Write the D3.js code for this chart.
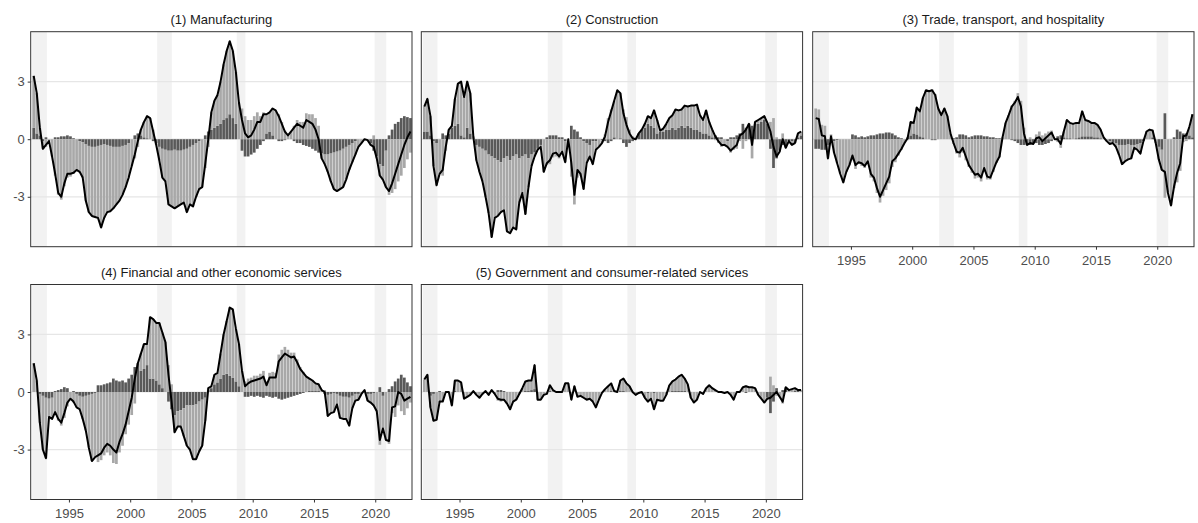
<!DOCTYPE html>
<html>
<head>
<meta charset="utf-8">
<script src="https://cdn.jsdelivr.net/npm/d3@7"></script>
<style>
  body { margin: 0; background: #fff; font-family: "Liberation Sans", Arial, sans-serif; }
  .tick text { fill: #4d4d4d; font-size: 13px; }
  .title { fill: #1a1a1a; font-size: 13px; }
</style>
</head>
<body>
<div id="chart"></div>
<script>
// Quarterly data, 1992Q1 - 2022Q4
const startYear = 1992;
const panelTitles = [
  "(1) Manufacturing",
  "(2) Construction",
  "(3) Trade, transport, and hospitality",
  "(4) Financial and other economic services",
  "(5) Government and consumer-related services"
];
const recessions = [[1992.0, 1993.2], [2002.2, 2003.4], [2008.7, 2009.4], [2019.95, 2020.9]];
const xTicks = [1995, 2000, 2005, 2010, 2015, 2020];
const yTicks = [-3, 0, 3];

// total contribution (black line)
const total1 = [3.3,2.4,0.6,-0.5, -0.3,-0.1,-0.9,-1.8, -2.8,-3.0,-2.3,-1.8, -1.8,-1.75,-1.6,-1.7,
  -2.0,-3.2,-3.8,-4.0, -4.05,-4.1,-4.6,-4.1, -3.8,-3.75,-3.6,-3.4, -3.2,-2.9,-2.5,-2.0,
  -1.4,-0.8,-0.1,0.5, 0.9,1.2,1.1,0.4, -0.3,-1.1,-2.0,-2.2, -3.4,-3.5,-3.6,-3.5,
  -3.4,-3.3,-3.8,-3.4, -3.5,-3.0,-2.6,-2.5, -1.3,0.0,1.4,2.0, 2.3,3.0,3.9,4.6,
  5.1,4.6,3.5,1.9, 1.0,0.3,0.1,0.2, 0.5,0.9,0.9,1.3, 1.3,1.4,1.6,1.5,
  1.2,0.8,0.4,0.2, 0.4,0.6,0.8,0.7, 0.6,1.0,0.9,0.8, 0.5,0.0,-1.0,-1.3,
  -1.7,-2.2,-2.6,-2.7, -2.6,-2.5,-2.1,-1.6, -1.2,-0.8,-0.4,-0.2, 0.0,-0.05,-0.3,-0.4,
  -1.0,-1.9,-2.1,-2.5, -2.7,-2.3,-1.8,-1.3, -0.8,-0.3,0.1,0.4];
const total2 = [1.7,2.1,1.2,-1.4, -2.4,-1.8,-1.6,-0.4, 0.5,0.7,2.1,2.9, 3.0,2.2,3.0,2.4,
  0.15,-1.1,-1.7,-2.2, -3.0,-3.85,-5.1,-4.1, -4.0,-3.8,-3.7,-4.8, -4.9,-4.6,-4.7,-3.3,
  -2.8,-3.9,-2.5,-1.4, -0.9,-0.55,-0.4,-1.7, -1.25,-1.1,-0.75,-0.7, -0.9,-0.65,-1.2,0.0,
  -1.25,-2.9,-1.6,-1.8, -2.6,-1.25,-0.9,-1.3, -0.55,-0.4,-0.2,0.15, 0.9,1.45,2.0,2.55,
  2.4,1.35,0.75,0.3, 0.05,0.0,0.3,0.5, 0.8,1.2,1.1,1.5, 1.0,0.45,0.55,0.8,
  1.1,1.25,1.55,1.5, 1.55,1.75,1.7,1.75, 1.75,1.8,1.25,1.0, 1.5,0.9,0.5,0.15,
  -0.1,-0.3,-0.3,-0.4, -0.6,-0.45,-0.3,0.2, 0.3,0.5,0.8,-0.3, 0.9,1.0,1.1,1.2,
  0.85,0.4,-0.4,-0.9, -0.65,0.0,-0.45,-0.1, -0.3,-0.2,0.3,0.4];
const total3 = [1.1,1.05,0.2,0.15, -1.0,0.15,-0.7,-1.25, -1.8,-2.25,-1.7,-1.35, -0.85,-1.35,-1.2,-1.25,
  -1.4,-1.15,-1.8,-2.0, -2.55,-3.0,-2.65,-2.3, -1.95,-1.15,-1.0,-0.75, -0.5,-0.2,0.05,0.9,
  0.85,1.65,1.45,2.15, 2.55,2.5,2.55,2.3, 1.6,1.25,1.6,1.2, 0.3,-0.2,-0.65,-0.7,
  -0.45,-0.9,-1.35,-1.6, -1.85,-1.8,-2.0,-1.5, -1.95,-2.0,-1.6,-1.2, -0.9,0.1,0.85,1.25,
  1.7,1.9,2.2,1.7, 0.3,-0.3,-0.2,-0.25, 0.05,0.1,-0.1,0.05, 0.2,0.35,0.0,0.0,
  -0.25,0.4,1.0,0.85, 0.8,0.85,0.85,1.45, 1.0,0.95,0.85,0.85, 0.75,0.5,0.1,-0.1,
  -0.25,-0.2,-0.4,-0.8, -1.3,-1.15,-1.05,-1.0, -0.45,-0.55,-0.75,-0.1, 0.4,0.5,0.45,-0.2,
  -1.05,-1.6,-1.7,-2.8, -3.45,-2.45,-1.75,-1.25, 0.15,0.2,0.65,1.3];
const total4 = [1.5,0.6,-1.6,-3.0, -3.45,-1.3,-1.4,-1.05, -1.4,-1.6,-1.1,-0.55, -0.35,-0.5,-0.8,-0.9,
  -1.4,-2.0,-2.9,-3.6, -3.4,-3.3,-3.2,-2.9, -2.7,-2.8,-3.0,-3.15, -2.6,-2.2,-1.7,-1.0,
  -0.3,0.7,1.5,2.0, 2.5,2.5,3.9,3.8, 3.6,3.6,3.1,2.6, 0.9,-0.5,-2.1,-1.8,
  -1.8,-2.3,-2.8,-3.0, -3.5,-3.5,-3.1,-2.8, -1.5,0.2,0.3,0.9, 1.0,2.0,3.0,3.7,
  4.4,4.3,3.3,2.5, 1.1,0.3,0.45,0.55, 0.6,0.65,0.7,0.8, 0.35,0.75,0.75,0.75,
  1.6,1.8,2.0,1.9, 1.8,1.85,1.55,1.2, 1.0,0.8,0.7,0.6, 0.45,0.4,0.1,0.0,
  -1.25,-1.1,-1.05,-0.65, -1.35,-1.4,-1.4,-1.75, -0.85,-0.45,-0.4,-0.1, 0.1,-0.45,-0.55,-0.7,
  -1.0,-2.5,-1.9,-2.5, -2.55,-0.8,-0.75,0.0, -0.1,-0.45,-0.35,-0.25];
const total5 = [0.65,0.9,-0.8,-1.5, -1.45,-0.5,-0.5,0.0, 0.0,-0.7,0.6,0.6, 0.5,-0.35,-0.25,-0.15,
  0.05,-0.15,-0.3,-0.1, 0.05,-0.15,0.1,-0.1, -0.35,-0.4,-0.4,-0.6, -0.9,-0.5,-0.4,-0.1,
  0.2,0.55,0.6,0.6, 1.4,-0.4,-0.4,-0.15, -0.1,0.35,0.1,0.0, 0.0,0.0,0.45,0.45,
  -0.4,0.3,-0.25,-0.2, -0.3,-0.4,-0.35,-0.5, -0.8,-0.4,-0.05,0.15, 0.3,0.45,0.05,0.0,
  0.6,0.7,0.45,0.3, 0.0,-0.15,-0.05,0.0, -0.3,-0.5,-0.35,-0.9, -0.4,-0.45,-0.45,-0.15,
  0.35,0.55,0.65,0.8, 0.9,0.7,0.4,-0.3, -0.55,-0.4,0.0,-0.1, 0.2,0.35,0.2,0.1,
  0.0,0.0,-0.05,0.0, -0.15,-0.4,0.0,0.0, 0.25,0.3,0.25,0.25, 0.2,-0.15,-0.35,-0.55,
  -0.35,-0.3,-0.15,0.0, -0.25,-0.5,0.25,0.1, 0.15,0.2,0.1,0.1];

// first component (dark bars); the light bars are the remainder of the total
const dark1 = [0.6,0.3,0.2,-0.1, 0.1,0.0,0.0,0.1, 0.1,0.15,0.15,0.2, 0.15,0.05,0.0,-0.1,
  -0.15,-0.25,-0.35,-0.4, -0.4,-0.35,-0.3,-0.25, -0.3,-0.35,-0.4,-0.4, -0.4,-0.35,-0.3,-0.2,
  0.0,0.2,0.3,0.2, 0.1,0.05,0.0,-0.1, -0.2,-0.4,-0.5,-0.55, -0.6,-0.6,-0.55,-0.6,
  -0.6,-0.55,-0.5,-0.4, -0.3,-0.2,-0.1,0.0, 0.2,0.4,0.5,0.6, 0.7,0.8,1.0,1.1,
  1.3,1.1,0.8,0.0, -0.6,-0.9,-0.9,-0.8, -0.7,-0.5,-0.3,-0.1, 0.3,0.4,0.2,0.0,
  -0.1,-0.1,-0.05,0.0, 0.0,-0.1,-0.2,-0.2, -0.3,-0.35,-0.4,-0.5, -0.6,-0.7,-0.75,-0.8,
  -0.8,-0.75,-0.7,-0.65, -0.6,-0.5,-0.4,-0.3, -0.2,-0.1,0.0,0.0, 0.0,0.0,-0.2,-0.6,
  -0.9,-1.3,-1.4,-0.6, 0.2,0.5,0.8,0.9, 1.1,1.2,1.15,1.1];
const dark2 = [0.4,0.4,0.2,-0.1, -0.2,0.0,0.3,0.2, 0.3,0.6,0.7,0.8, 0.2,0.1,0.6,0.3,
  0.0,-0.3,-0.4,-0.5, -0.6,-0.8,-0.9,-1.0, -1.1,-1.2,-1.0,-0.9, -1.1,-0.9,-0.8,-1.0,
  -0.9,-0.8,-1.0,-0.8, -0.7,-0.5,-0.3,0.0, 0.1,0.2,0.2,0.2, 0.1,0.1,-0.1,0.0,
  0.7,0.5,0.4,0.1, -0.1,-0.2,-0.3,-0.1, -0.1,0.0,-0.05,-0.1, -0.2,-0.1,0.1,0.0,
  0.05,-0.2,-0.4,-0.2, -0.1,0.0,0.3,0.5, 0.6,0.8,0.7,0.6, 0.3,0.4,0.4,0.5,
  0.5,0.6,0.5,0.6, 0.7,0.6,0.7,0.6, 0.5,0.5,0.4,0.3, 0.3,0.2,0.1,0.2,
  0.1,0.1,0.0,-0.1, 0.1,0.1,0.2,0.3, 0.8,0.6,0.8,0.7, 0.8,0.8,0.9,1.0,
  0.8,-0.5,-1.5,-1.0, -0.6,-0.3,-0.4,-0.1, -0.1,-0.2,0.1,0.2];
const dark3 = [-0.5,-0.5,-0.55,-0.55, -0.3,-0.1,-0.1,-0.05, 0.0,0.0,0.0,0.0, 0.25,0.2,0.1,0.15,
  0.1,0.15,0.2,0.2, 0.25,0.3,0.3,0.35, 0.35,0.3,0.2,0.1, 0.05,0.0,0.1,0.2,
  0.3,0.25,0.15,0.1, 0.0,0.0,-0.05,-0.05, 0.0,0.0,0.0,0.0, 0.0,0.05,0.1,0.25,
  0.25,0.2,0.1,0.15, 0.2,0.2,0.2,0.15, 0.15,0.1,0.1,0.05, 0.05,0.0,0.0,0.0,
  -0.05,-0.1,-0.2,-0.3, -0.3,-0.3,-0.3,-0.25, -0.2,-0.3,-0.3,-0.25, -0.2,-0.1,0.0,0.15,
  0.2,0.1,0.05,0.05, 0.0,0.05,0.1,0.15, 0.15,0.15,0.15,0.1, 0.1,0.05,0.0,0.0,
  -0.1,-0.15,-0.2,-0.3, -0.3,-0.3,-0.25,-0.3, -0.3,-0.25,-0.2,-0.1, 0.0,0.0,0.1,0.0,
  -0.4,-0.55,1.35,0.0, 0.0,0.1,0.5,0.4, 0.3,0.3,0.2,0.1];
const dark4 = [0.0,0.0,-0.1,-0.2, -0.3,-0.35,-0.3,0.05, 0.1,0.15,0.25,0.2, 0.0,0.05,-0.1,-0.2,
  -0.25,-0.2,-0.15,-0.1, -0.05,0.35,0.35,0.4, 0.45,0.5,0.7,0.6, 0.55,0.6,0.5,0.7,
  0.9,1.3,1.5,1.1, 1.2,1.4,0.7,0.7, 0.6,0.4,0.2,0.0, -0.5,-0.9,-1.2,-1.0,
  -0.95,-0.85,-0.7,-0.7, -0.7,-0.65,-0.5,-0.4, -0.3,0.1,0.2,0.4, 0.5,0.7,0.9,0.95,
  0.85,0.75,0.55,0.3, 0.0,-0.25,-0.25,-0.2, -0.25,-0.2,-0.25,-0.3, -0.2,-0.25,-0.3,-0.25,
  -0.35,-0.4,-0.35,-0.3, -0.25,-0.2,-0.15,-0.1, -0.05,0.0,0.05,0.05, 0.05,0.05,0.0,-0.1,
  -0.15,-0.1,-0.05,-0.1, -0.2,-0.25,-0.25,-0.3, -0.2,-0.1,-0.1,0.0, 0.0,-0.1,-0.1,-0.05,
  0.0,0.25,-0.2,0.0, 0.15,0.3,0.55,0.7, 0.9,0.75,0.5,0.3];
const dark5 = [0.0,0.0,-0.2,-0.1, 0.0,0.05,0.0,0.0, 0.0,0.0,0.05,0.0, 0.0,0.0,0.0,0.0,
  0.0,0.0,0.0,0.0, 0.0,0.0,0.05,0.0, 0.1,0.1,0.05,0.0, 0.0,0.0,0.0,0.0,
  0.0,0.05,0.05,0.1, 0.15,0.0,0.0,0.0, 0.0,0.05,0.0,0.0, 0.0,0.0,0.0,0.0,
  0.0,0.0,0.0,0.0, 0.0,0.0,0.0,0.0, 0.0,0.0,0.0,0.0, 0.0,0.05,0.0,0.0,
  0.05,0.05,0.0,0.0, 0.0,0.0,0.0,0.0, 0.0,-0.05,0.0,-0.05, 0.0,0.0,0.0,0.0,
  0.0,0.05,0.05,0.05, 0.05,0.05,0.0,0.0, 0.0,0.0,0.0,0.0, 0.0,0.0,0.0,0.0,
  0.0,0.0,0.0,0.0, 0.0,0.0,0.0,0.0, 0.0,-0.05,0.0,0.0, 0.0,0.0,0.0,0.0,
  -0.3,-1.1,-0.5,0.2, 0.0,0.1,0.2,0.0, 0.0,0.05,0.05,0.0];

const totals = [total1, total2, total3, total4, total5];
const darks = [dark1, dark2, dark3, dark4, dark5];

const W = 1198, H = 523;
const cols = [30.7, 421.3, 812.7], pw = 381.3;
const rows = [31.7, 284.5], ph = 215;

const svg = d3.select("#chart").append("svg").attr("width", W).attr("height", H);

const x = d3.scaleLinear().domain([1991.88, 2023.0]).range([0, pw]);
const y = d3.scaleLinear().domain([-5.6, 5.6]).range([ph, 0]);
const bw = (x(1) - x(0)) / 4 * 0.88;

panelTitles.forEach((title, p) => {
  const col = p % 3, row = Math.floor(p / 3);
  const g = svg.append("g").attr("transform", `translate(${cols[col]},${rows[row]})`);

  g.append("text").attr("class", "title")
    .attr("x", pw / 2).attr("y", -8).attr("text-anchor", "middle").text(title);

  g.selectAll(".rec").data(recessions).enter().append("rect")
    .attr("x", d => x(d[0])).attr("width", d => x(d[1]) - x(d[0]))
    .attr("y", 0).attr("height", ph).attr("fill", "#f2f2f2");

  g.selectAll(".grid").data(yTicks).enter().append("line")
    .attr("x1", 0).attr("x2", pw).attr("y1", d => y(d)).attr("y2", d => y(d))
    .attr("stroke", "#e6e6e6").attr("stroke-width", 1.2);

  const data = totals[p].map((t, i) => {
    const d = darks[p][i], l = t - d;
    const dateVal = startYear + i / 4 + 0.125;
    const lightBase = (d >= 0) === (l >= 0) ? d : 0;
    return { t, d, l, date: dateVal, lightBase };
  });

  g.selectAll(".dark").data(data).enter().append("rect")
    .attr("x", d => x(d.date) - bw / 2).attr("width", bw)
    .attr("y", d => y(Math.max(0, d.d))).attr("height", d => Math.abs(y(0) - y(d.d)))
    .attr("fill", "#595959");

  g.selectAll(".light").data(data).enter().append("rect")
    .attr("x", d => x(d.date) - bw / 2).attr("width", bw)
    .attr("y", d => y(Math.max(d.lightBase, d.lightBase + d.l)))
    .attr("height", d => Math.abs(y(d.lightBase) - y(d.lightBase + d.l)))
    .attr("fill", "#a8a8a8");

  g.append("path").datum(data)
    .attr("fill", "none").attr("stroke", "#000").attr("stroke-width", 2)
    .attr("stroke-linejoin", "round")
    .attr("d", d3.line().x(d => x(d.date)).y(d => y(d.t)));

  g.append("rect").attr("width", pw).attr("height", ph)
    .attr("fill", "none").attr("stroke", "#333").attr("stroke-width", 1);

  if (col === 0) {
    const ya = g.append("g").call(d3.axisLeft(y).tickValues(yTicks).tickSize(3).tickFormat(d => d === 0 ? "0" : (d < 0 ? "-" + (-d) : d)));
    ya.select(".domain").remove();
    ya.selectAll("line").attr("stroke", "#333");
  }
  if (p >= 2) {
    const xa = g.append("g").attr("transform", `translate(0,${ph})`)
      .call(d3.axisBottom(x).tickValues(xTicks).tickSize(3).tickFormat(d3.format("d")));
    xa.select(".domain").remove();
    xa.selectAll("line").attr("stroke", "#333");
    xa.selectAll("text").attr("dy", "0.95em");
  }
});
</script>
</body>
</html>
